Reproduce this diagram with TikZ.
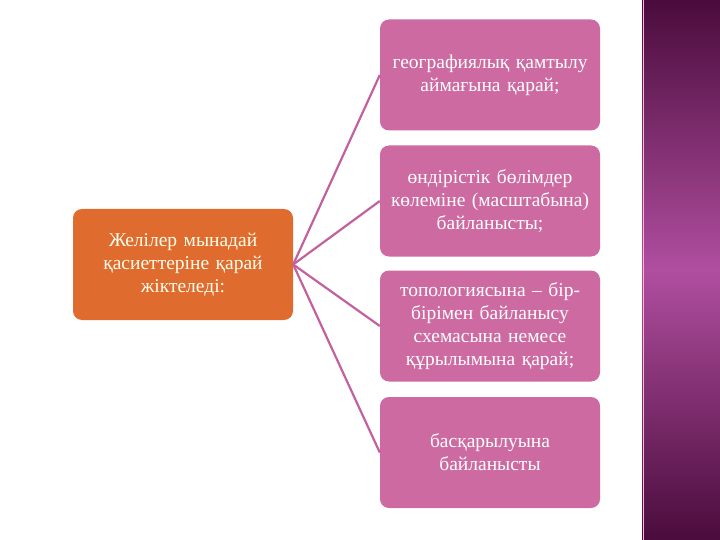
\documentclass[tikz,border=0pt]{standalone}
\usepackage{fontspec}
\setmainfont{Liberation Serif}
\definecolor{boxpink}{HTML}{CD6AA1}
\definecolor{boxorange}{HTML}{DF6B2E}
\definecolor{linkpink}{HTML}{C2619E}
\definecolor{stripdark}{HTML}{4A0C3C}
\definecolor{stripmid}{HTML}{B04E9F}
\begin{document}
\begin{tikzpicture}[x=1pt,y=-1pt,
	item/.style={draw=none,fill=boxpink,rounded corners=9pt,minimum width=220pt,minimum height=111pt,text width=218pt,inner sep=1pt,align=center,text=white,font=\fontsize{19.5}{23}\selectfont},
	root/.style={item,fill=boxorange,text=white!92!yellow},
	link/.style={draw=linkpink,line width=2.2pt}]
	\useasboundingbox (0,0) rectangle (720,540);
	\shade[top color=stripdark,bottom color=stripdark,middle color=stripmid] (642,0) rectangle (720,540);
	\draw[white!70!magenta, line width=0.6pt] (643.5,0) -- (643.5,540);
	\node[root] (ground) at (183,264.5) {Желілер мынадай\\қасиеттеріне қарай\\жіктеледі:};
	\node[item] (geo) at (490,75) {географиялық қамтылу\\аймағына қарай;};
	\node[item] (size) at (490,201) {өндірістік бөлімдер\\көлеміне (масштабына)\\байланысты;};
	\node[item] (topo) at (490,326) {топологиясына – бір-\\бірімен байланысу\\схемасына немесе\\құрылымына қарай;};
	\node[item] (ctrl) at (490,452.5) {басқарылуына\\байланысты};
	\draw[link] (ground.east) -- (geo.west);
	\draw[link] (ground.east) -- (size.west);
	\draw[link] (ground.east) -- (topo.west);
	\draw[link] (ground.east) -- (ctrl.west);
\end{tikzpicture}
\end{document}
